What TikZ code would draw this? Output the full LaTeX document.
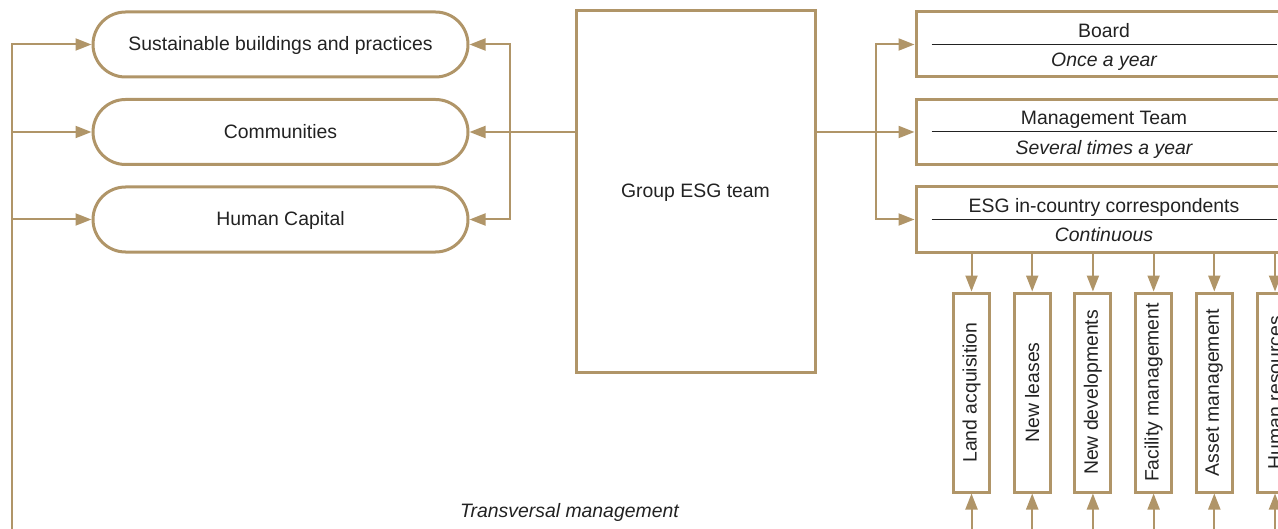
\documentclass[tikz,border=0pt]{standalone}
\usepackage{fontspec}
\setmainfont{Liberation Sans}
\usetikzlibrary{arrows.meta,positioning}
\definecolor{esggold}{RGB}{176,149,104}
\definecolor{esgtext}{RGB}{34,34,34}

\begin{document}
\begin{tikzpicture}[x=0.5pt,y=-0.5pt,node distance=43.75pt,on grid,
    font=\fontsize{9.7}{11.6}\selectfont,text=esgtext,
    >={Triangle[length=8pt,width=6pt]}]
  % Define box and link styles
  \tikzstyle{pillbox}=[rectangle,rounded corners=16.25pt,draw=esggold,line width=1.5pt,minimum width=187.5pt,minimum height=32.5pt,inner sep=0pt,text depth=1pt]
  \tikzstyle{bodybox}=[rectangle,draw=esggold,line width=1.5pt,minimum width=188pt,minimum height=32.5pt,inner sep=0pt]
  \tikzstyle{teambox}=[rectangle,draw=esggold,line width=1.5pt,minimum width=119.5pt,minimum height=180.5pt,text depth=1pt]
  \tikzstyle{unitbox}=[rectangle,draw=esggold,line width=1.5pt,minimum width=18pt,minimum height=99.5pt,inner sep=0pt]
  \tikzstyle{link}=[color=esggold,line width=1pt]
  \tikzstyle{sepline}=[draw=esgtext,line width=0.5pt]

  \clip (0,0) rectangle (1278,529);

  \node[pillbox]          (sus) at (280.5,44.5) {Sustainable buildings and practices};
  \node[pillbox]          (com) [below=of sus]  {Communities};
  \node[pillbox]          (hum) [below=of com]  {Human Capital};

  \node[teambox]          (esg) at (695.5,191.5) {Group ESG team};

  \node[bodybox]          (board) at (1104,44.5) {};
  \node[bodybox]          (mgmt) [below=of board] {};
  \node[bodybox]          (corr) [below=of mgmt]  {};

  \foreach \b/\top/\sub in {board/Board/Once a year,
      mgmt/Management Team/Several times a year,
      corr/ESG in-country correspondents/Continuous} {
    \draw[sepline] ([xshift=8.5pt]\b.west) -- ([xshift=-8.5pt]\b.east);
    \node[anchor=base] (\b-top) at ([yshift=3.5pt]\b.center) {\top};
    \node[anchor=base] (\b-sub) at ([yshift=-11.25pt]\b.center) {\itshape\sub};
  }

  % Operational units below the correspondents
  \foreach \n/\t [count=\i from 0] in {land/Land acquisition, lease/New leases,
      newdev/New developments, facility/Facility management,
      asset/Asset management, hr/Human resources}
    \node[unitbox] (\n) at (971.5+60.7*\i,392.5) {\rotatebox{90}{\t}};

  \node[anchor=base] (trans) at (569.5,517) {\itshape Transversal management};

  \coordinate (tbus) at (12,545);
  \coordinate (lfork) at (510,132);
  \coordinate (rfork) at (876,132);

  \draw[link,->] (tbus) |- (sus.west);
  \draw[link,->] (tbus) |- (com.west);
  \draw[link,->] (tbus) |- (hum.west);

  \draw[link,->] (esg.west |- com.east) -- (com.east);
  \draw[link,->] (lfork) |- (sus.east);
  \draw[link,->] (lfork) |- (hum.east);

  \draw[link,->] (esg.east |- mgmt.west) -- (mgmt.west);
  \draw[link,->] (rfork) |- (board.west);
  \draw[link,->] (rfork) |- (corr.west);

  \foreach \n in {land,lease,newdev,facility,asset,hr} {
    \draw[link,->] (\n.north |- corr.south) -- (\n.north);
    \coordinate (\n-in) at (\n.south |- tbus);
    \draw[link,->] (\n-in) -- (\n.south);
  }
\end{tikzpicture}
\end{document}
